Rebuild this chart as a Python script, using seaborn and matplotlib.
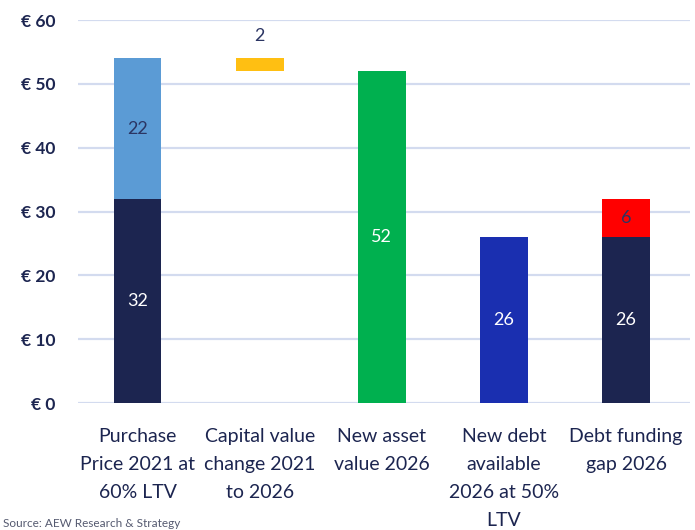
import matplotlib
matplotlib.use("Agg")
import matplotlib.pyplot as plt
import seaborn as sns
import pandas as pd

# values (EUR)
categories = ["Purchase\nPrice 2021 at\n60% LTV", "Capital value\nchange 2021\nto 2026",
              "New asset\nvalue 2026", "New debt\navailable\n2026 at 50%\nLTV", "Debt funding\ngap 2026"]
base_vals = [32, 0, 52, 26, 26]
upper_vals = [22, 2, 0, 0, 6]
floor_vals = [32, 52, 52, 26, 26]
base_colors = ["#1c2550", "#ffffff", "#00b04f", "#1a2fb0", "#1c2550"]
upper_colors = ["#5b9bd5", "#ffbf12", "#ffffff", "#ffffff", "#ff0000"]
base_text = ["#ffffff", None, "#ffffff", "#ffffff", "#ffffff"]
upper_text = ["#2b3563", "#2b3563", None, None, "#2b3563"]
yticks = [0, 10, 20, 30, 40, 50, 60]

navy = "#1c2550"
sns.set_theme(style="white")
plt.rcParams["font.family"] = ["Lato", "DejaVu Sans"]

df = pd.DataFrame({"cat": categories, "base": base_vals, "upper": upper_vals,
                   "floor": floor_vals})

fig = plt.figure(figsize=(6.95, 5.3), dpi=100)
ax = fig.add_axes([0.112, 0.2396, 0.881, 0.7224])

w = 0.39
has_base = df[df["base"] > 0]
sns.barplot(data=has_base, x="cat", y="base", order=categories,
            hue="cat", hue_order=list(has_base["cat"]),
            palette=[base_colors[categories.index(c)] for c in has_base["cat"]],
            legend=False, width=w, ax=ax, saturation=1, linewidth=0, zorder=3)
# upper segments sit on their floor (the capital value change floats)
up = df[df["upper"] > 0]
ax.bar([categories.index(c) for c in up["cat"]], up["upper"], bottom=up["floor"], width=w,
       color=[upper_colors[categories.index(c)] for c in up["cat"]], linewidth=0, zorder=3)

for i in range(len(categories)):
    if base_vals[i] > 0:
        ax.text(i, base_vals[i] / 2, str(base_vals[i]),
                ha="center", va="center", color=base_text[i], fontsize=13, zorder=4)
    if upper_vals[i] > 0:
        fl = floor_vals[i]
        y = fl + upper_vals[i] / 2 if i != 1 else fl + upper_vals[i] + 3.5
        ax.text(i, y, str(upper_vals[i]), ha="center", va="center",
                color=upper_text[i], fontsize=13, zorder=4)

ax.set_ylim(0, 60)
ax.set_xlim(-0.49, 4.525)
ax.set_yticks(yticks)
ax.set_yticklabels([f"€ {v}" for v in yticks], fontsize=12.5, fontweight="bold", color=navy)
ax.set_xticks(range(len(categories)))
ax.set_xticklabels(categories, fontsize=14, color=navy, linespacing=1.78, va="top")
ax.tick_params(axis="both", length=0)
ax.tick_params(axis="y", pad=16)
ax.tick_params(axis="x", pad=18)
ax.yaxis.grid(True, color="#d3dbef", linewidth=1.6, zorder=0)
ax.set_axisbelow(True)
ax.set_xlabel("")
ax.set_ylabel("")
for s in ax.spines.values():
    s.set_visible(False)

fig.text(0.005, 0.002, "Source: AEW Research & Strategy", fontsize=8.5, color="#555a70",
         ha="left", va="bottom")

fig.savefig("out.png", dpi=100)
